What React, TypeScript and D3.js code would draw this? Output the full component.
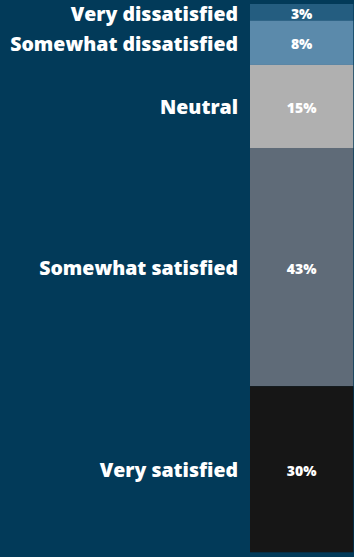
import React from "react";
import * as d3 from "d3";

const categories = ["Very dissatisfied", "Somewhat dissatisfied", "Neutral", "Somewhat satisfied", "Very satisfied"];
const values = [3, 8, 15, 43, 30];
const colors = ["#245d80", "#5b8aab", "#b0b0b0", "#5f6b78", "#161616"];

const W = 354;
const H = 557;

export default function App() {
  const total = d3.sum(values);
  const y = d3.scaleLinear().domain([0, total]).range([4, 552.3]);
  const x0 = 250;
  const x1 = 353.3;
  let acc = 0;
  const segs = values.map((v, i) => {
    const s = acc;
    acc += v;
    return { cat: categories[i], v, y0: y(s), y1: y(acc), color: colors[i] };
  });
  return (
    <div style={{ position: "absolute", left: 0, top: 0 }}>
      <svg width={W} height={H} style={{ display: "block" }}>
        <rect x={0} y={0} width={W} height={H} fill="#023a59" />
        {segs.map((s, i) => (
          <g key={i}>
            <rect x={x0} y={s.y0} width={x1 - x0} height={s.y1 - s.y0} fill={s.color} />
            <text
              x={238}
              y={Math.max((s.y0 + s.y1) / 2 + 8, s.y0 + 16.5)}
              textAnchor="end"
              fill="#ffffff"
              fontFamily="'Open Sans', sans-serif"
              fontWeight={800}
              fontSize={19.5}
            >
              {s.cat}
            </text>
            <text
              x={(x0 + x1) / 2}
              y={(s.y0 + s.y1) / 2 + 6.5}
              textAnchor="middle"
              fill="#ffffff"
              fontFamily="'Open Sans', sans-serif"
              fontWeight={800}
              fontSize={14}
            >
              {s.v}%
            </text>
          </g>
        ))}
      </svg>
    </div>
  );
}
